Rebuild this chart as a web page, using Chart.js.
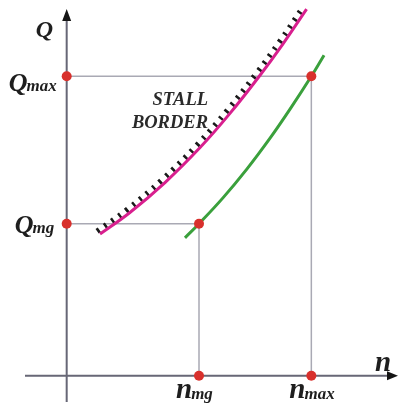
<!DOCTYPE html>
<html><head><meta charset="utf-8">
<script src="https://cdn.jsdelivr.net/npm/chart.js@4"></script>
<style>html,body{margin:0;padding:0;background:#fff}#wrap{width:398px;height:408px;position:relative}</style>
</head><body><div id="wrap"><canvas id="c"></canvas></div>
<script>
// ---- data ----
const nMg = 1.0, nMax = 1.849;
const qMg = 1.0, qMax = 1.97;
const stallN = [0.252, 0.478, 0.743, 1.008, 1.234, 1.457, 1.635, 1.813];
const stallQ = [0.932, 1.074, 1.271, 1.501, 1.726, 1.972, 2.184, 2.412];
const workN = [0.894, 1.0, 1.181, 1.363, 1.537, 1.688, 1.849, 1.945];
const workQ = [0.907, 1.0, 1.170, 1.361, 1.563, 1.754, 1.97, 2.109];
const axisNames = ['n', 'Q'];
const tickSubs = ['mg', 'max'];
const borderLabel = ['STALL', 'BORDER'];

const pts = (xs, ys) => xs.map((x, i) => ({x, y: ys[i]}));
const SERIF = '"Liberation Serif", "DejaVu Serif", serif';
const HATCH = 1;

const diagramPlugin = {
  id: 'diagram',
  beforeDatasetsDraw(chart) {
    const {ctx, scales: {x, y}} = chart;
    const x0 = x.getPixelForValue(0), y0 = y.getPixelForValue(0);
    ctx.save();
    ctx.strokeStyle = '#676776';
    ctx.lineWidth = 2;
    ctx.beginPath();
    ctx.moveTo(25, y0); ctx.lineTo(390, y0);
    ctx.moveTo(x0, 402); ctx.lineTo(x0, 18);
    ctx.stroke();
    ctx.fillStyle = '#151515';
    ctx.beginPath();
    ctx.moveTo(398, y0); ctx.lineTo(387, y0 - 4.5); ctx.lineTo(387, y0 + 4.5); ctx.closePath();
    ctx.moveTo(x0, 9); ctx.lineTo(x0 - 4.5, 21); ctx.lineTo(x0 + 4.5, 21); ctx.closePath();
    ctx.fill();
    ctx.restore();
  },
  beforeDatasetDraw(chart, args) {
    if (args.index === HATCH) { chart.ctx.save(); chart.ctx.translate(-2.9, -2.7); }
  },
  afterDatasetDraw(chart, args) {
    if (args.index === HATCH) chart.ctx.restore();
  },
  afterDraw(chart) {
    const {ctx, scales: {x, y}} = chart;
    const x0 = x.getPixelForValue(0), y0 = y.getPixelForValue(0);
    ctx.save();
    ctx.fillStyle = '#1e1e1e';
    ctx.textBaseline = 'alphabetic';
    ctx.textAlign = 'left';
    function sub(base, s, bx, by, bs, ss, sdy) {
      ctx.font = 'italic bold ' + bs + 'px ' + SERIF;
      ctx.fillText(base, bx, by);
      const w = ctx.measureText(base).width;
      ctx.font = 'italic bold ' + ss + 'px ' + SERIF;
      ctx.fillText(s, bx + w - 1, by + sdy);
    }
    // axis names
    ctx.font = 'italic bold 24px ' + SERIF;
    ctx.fillText(axisNames[1], x0 - 31, 37);
    ctx.font = 'italic bold 29px ' + SERIF;
    ctx.fillText(axisNames[0], 375, y0 - 5);
    // Q ticks
    sub(axisNames[1], tickSubs[1], x0 - 58, y.getPixelForValue(qMax) + 15, 26, 17, 0);
    sub(axisNames[1], tickSubs[0], x0 - 52, y.getPixelForValue(qMg) + 9.5, 26, 17, 0);
    // n ticks
    sub(axisNames[0], tickSubs[0], x.getPixelForValue(nMg) - 23, y0 + 22.5, 29, 17, 1);
    sub(axisNames[0], tickSubs[1], x.getPixelForValue(nMax) - 22, y0 + 22.5, 29, 17, 1);
    // stall border label
    ctx.fillStyle = '#2a2a2a';
    ctx.textAlign = 'right';
    ctx.font = 'italic bold 18.5px ' + SERIF;
    ctx.fillText(borderLabel[0], 208, 105);
    ctx.fillText(borderLabel[1], 208, 128);
    ctx.restore();
  }
};

new Chart(document.getElementById('c'), {
  type: 'line',
  data: {
    datasets: [
      { // stall border (magenta)
        data: pts(stallN, stallQ), borderColor: '#d81f8e', borderWidth: 3,
        tension: 0.4, pointRadius: 0, order: 2
      },
      { // hatching
        data: pts(stallN, stallQ), borderColor: '#1a1a1a', borderWidth: 5.5,
        borderDash: [2.5, 6.3], borderCapStyle: 'butt',
        tension: 0.4, pointRadius: 0, order: 3
      },
      { // working line (green)
        data: pts(workN, workQ), borderColor: '#3aa03c', borderWidth: 3,
        tension: 0.4, pointRadius: 0, order: 2
      },
      { // guide Qmax / nmax
        data: [{x: 0, y: qMax}, {x: nMax, y: qMax}, {x: nMax, y: 0}],
        borderColor: '#a9a9b4', borderWidth: 1.5, tension: 0, pointRadius: 0, order: 4
      },
      { // guide Qmg / nmg
        data: [{x: 0, y: qMg}, {x: nMg, y: qMg}, {x: nMg, y: 0}],
        borderColor: '#a9a9b4', borderWidth: 1.5, tension: 0, pointRadius: 0, order: 4
      },
      { // key points
        data: [{x: 0, y: qMax}, {x: 0, y: qMg}, {x: nMg, y: 0}, {x: nMax, y: 0}, {x: nMg, y: qMg}, {x: nMax, y: qMax}],
        showLine: false, pointRadius: 5, pointBackgroundColor: '#d8302c', pointBorderWidth: 0,
        borderColor: '#d8302c', order: 0
      }
    ]
  },
  options: {
    responsive: true, maintainAspectRatio: false, animation: false,
    layout: {padding: 0, autoPadding: false},
    plugins: {legend: {display: false}, tooltip: {enabled: false}},
    events: [],
    scales: {
      x: {type: 'linear', min: -0.504, max: 2.504, display: false},
      y: {type: 'linear', min: -0.2125, max: 2.472, display: false}
    }
  },
  plugins: [diagramPlugin]
});
</script>
</body></html>
